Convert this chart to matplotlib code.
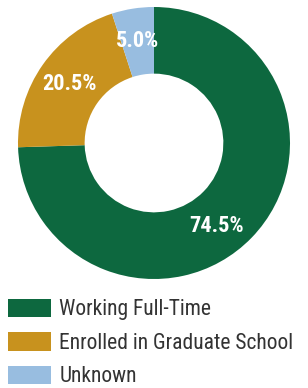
import matplotlib.pyplot as plt
from matplotlib.patches import Patch

labels = ['Working Full-Time', 'Enrolled in Graduate School', 'Unknown']
values = [74.5, 20.5, 5.0]
colors = ['#0d683f', '#c8921e', '#98bde0']

plt.rcParams['font.family'] = ['Roboto Condensed', 'DejaVu Sans']

fig = plt.figure(figsize=(3.08, 3.88), dpi=100)
W, H = 308, 388
cx, cy, r = 154, 245, 136
ax = fig.add_axes([(cx - r) / W, (cy - r) / H, 2 * r / W, 2 * r / H])

wedges, texts, autotexts = ax.pie(values, colors=colors, startangle=90, counterclock=False,
                                  radius=1, wedgeprops=dict(width=0.49, linewidth=0),
                                  autopct='%.1f%%', pctdistance=0.76,
                                  textprops=dict(color='white', fontsize=16, fontweight='bold'))
# the big label sits a bit lower than the wedge middle
autotexts[0].set_position((0.46, -0.61))
ax.set_xlim(-1, 1)
ax.set_ylim(-1, 1)
ax.set_aspect('equal')

handles = [Patch(facecolor=c, edgecolor='none') for c in colors]
fig.legend(handles, labels, loc='upper left', bbox_to_anchor=(-1 / W, 1 - 290 / H),
           frameon=False, fontsize=15.5, handlelength=2.0, handleheight=0.95,
           handletextpad=0.4, labelspacing=0.55, borderaxespad=0, labelcolor='#333333')

fig.savefig('out.png', dpi=100)
